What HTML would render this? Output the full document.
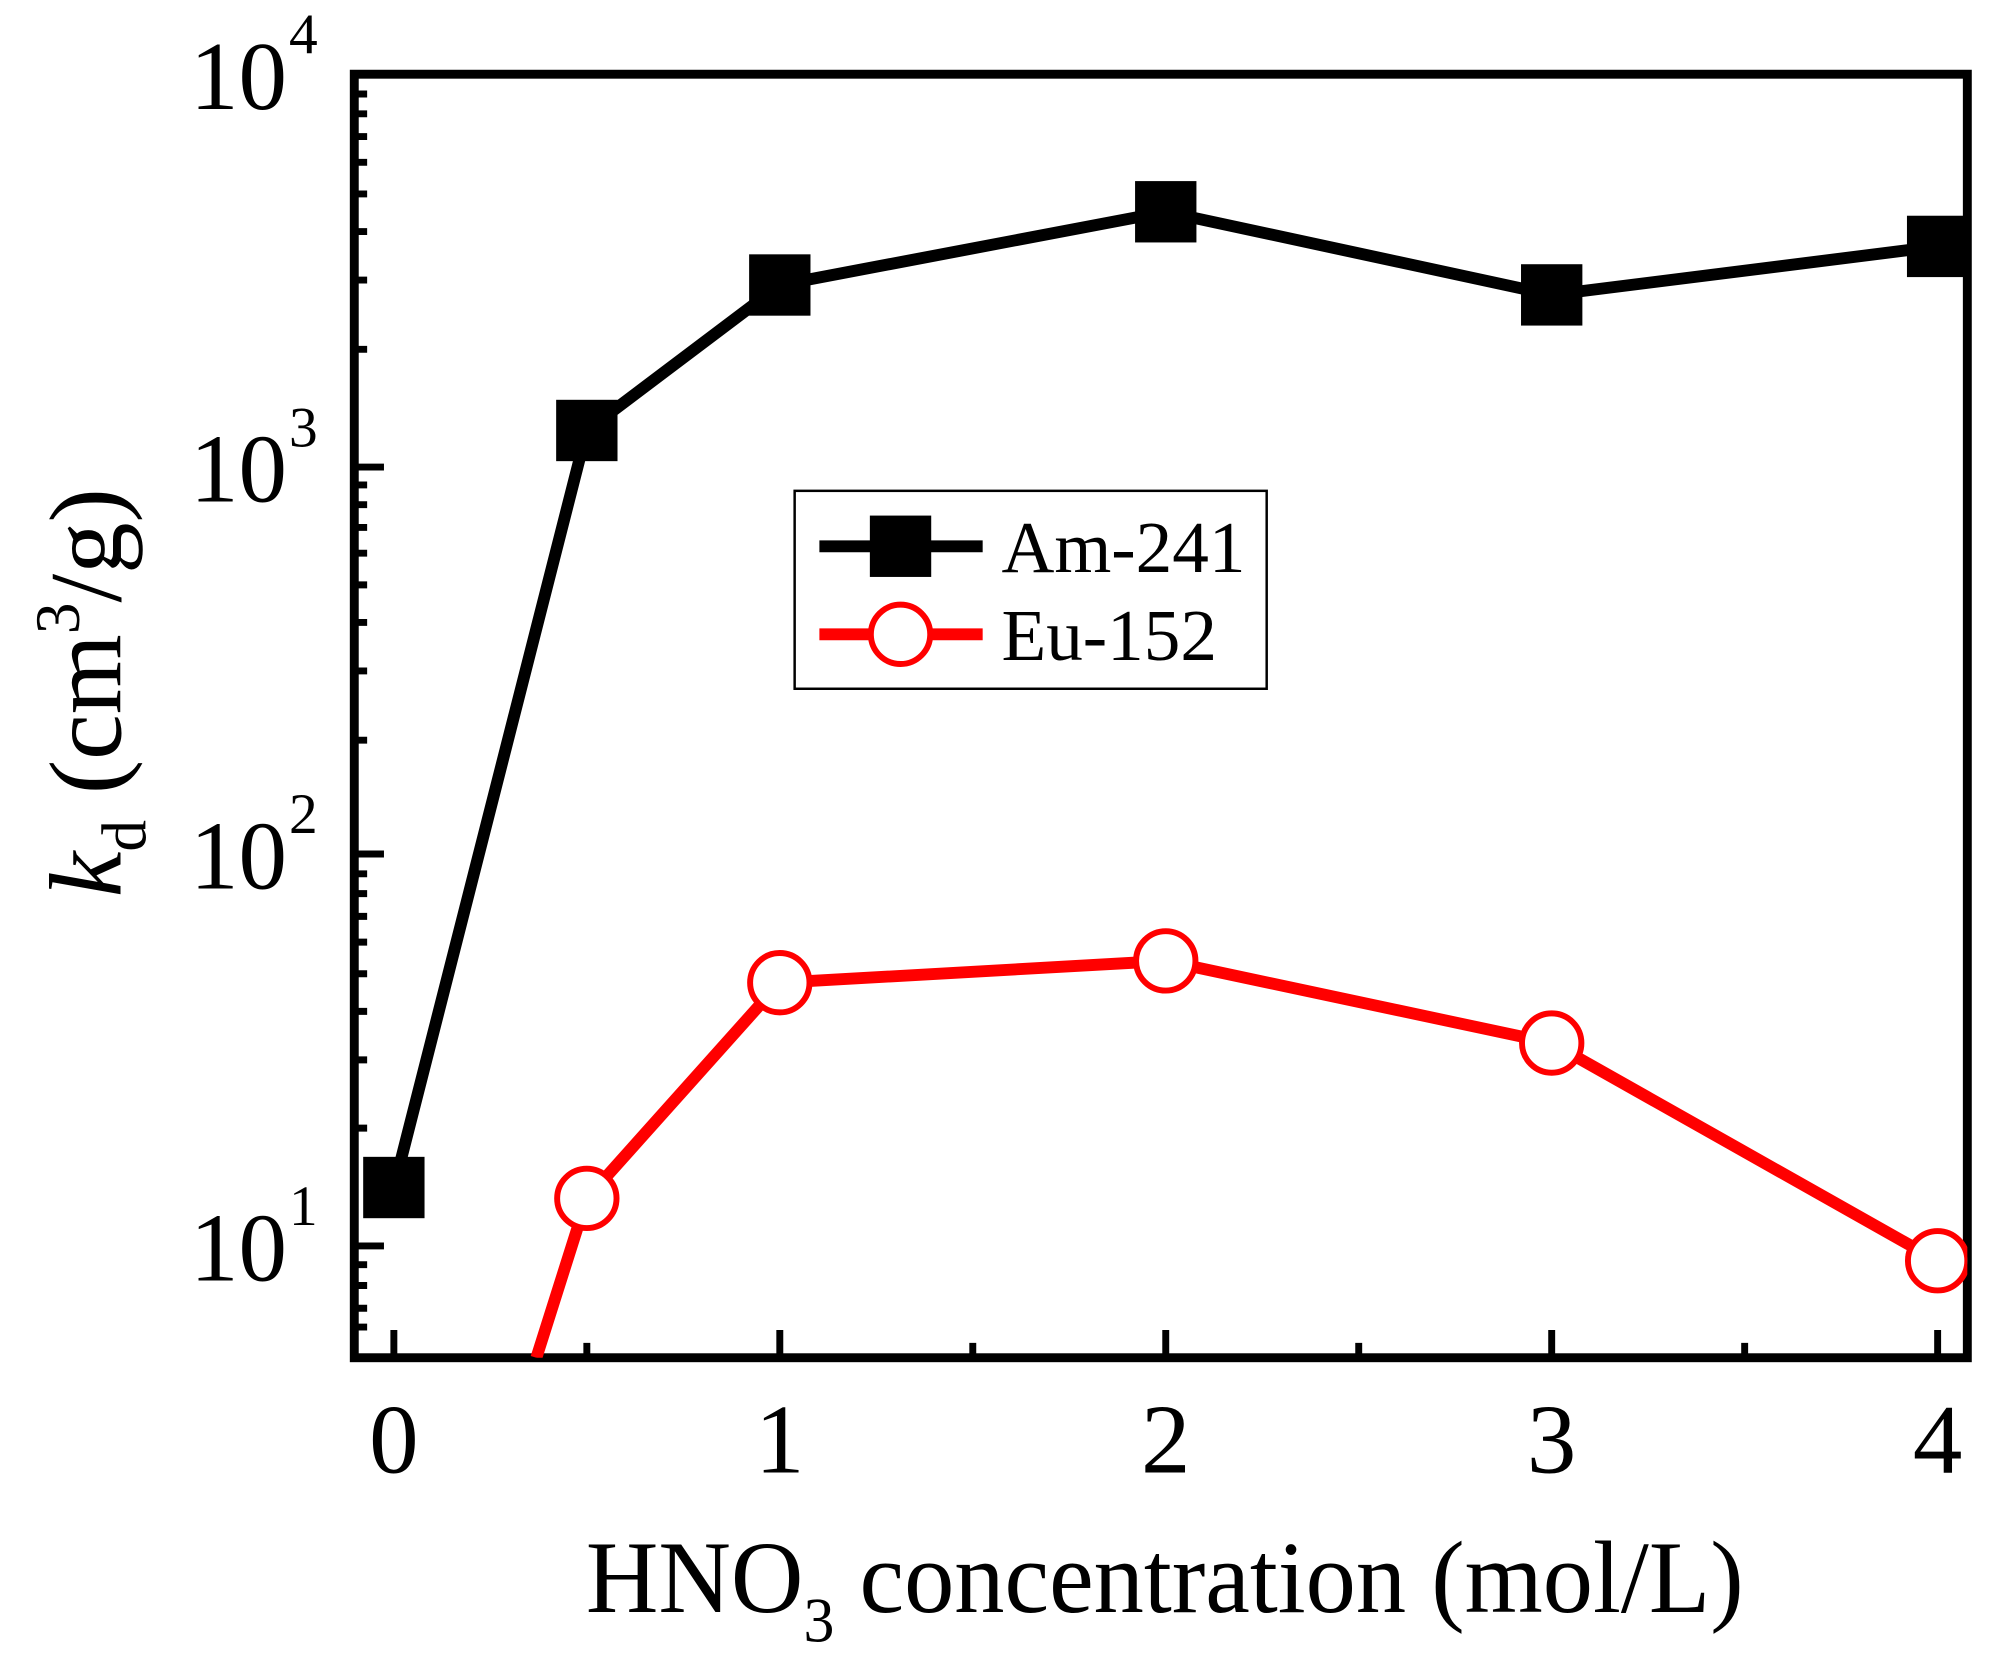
<!DOCTYPE html>
<html><head><meta charset="utf-8"><style>
html,body{margin:0;padding:0;background:#fff;}
svg{display:block;}
text{font-family:"Liberation Serif",serif;fill:#000;}
</style></head><body>
<svg width="2014" height="1672" viewBox="0 0 2014 1672" xmlns="http://www.w3.org/2000/svg">
<defs><clipPath id="c"><rect x="358" y="75" width="1630" height="1297"/></clipPath></defs>
<g transform="scale(0.9896)">
<g stroke="#000" stroke-width="7" fill="none">
<path d="
M358 472 h30 M358 863 h30 M358 1259 h30 M358 75 h30
M358 353 h13 M358 283 h13 M358 234 h13 M358 196 h13 M358 164 h13 M358 138 h13 M358 115 h13 M358 95 h13
M358 748 h13 M358 678 h13 M358 629 h13 M358 591 h13 M358 559 h13 M358 533 h13 M358 510 h13 M358 490 h13
M358 1140 h13 M358 1071 h13 M358 1022 h13 M358 984 h13 M358 952 h13 M358 926 h13 M358 903 h13 M358 883 h13
M358 1341 h13 M358 1322 h13 M358 1299 h13 M358 1278 h13
"/>
<path d="M398 1372 v-28 M788 1372 v-28 M1178 1372 v-28 M1568 1372 v-28 M1958 1372 v-28
M593 1372 v-15 M983 1372 v-15 M1373 1372 v-15 M1763 1372 v-15"/>
</g>
<rect x="358" y="75" width="1630" height="1297" fill="none" stroke="#000" stroke-width="9"/>
<g clip-path="url(#c)">
<polyline points="398,1200 593,435 788,288 1178,214 1568,298 1958,249" fill="none" stroke="#000" stroke-width="12"/>
<g fill="#000">
<rect x="367" y="1169" width="62" height="62"/><rect x="562" y="404" width="62" height="62"/>
<rect x="757" y="257" width="62" height="62"/><rect x="1147" y="183" width="62" height="62"/>
<rect x="1537" y="267" width="62" height="62"/><rect x="1927" y="218" width="62" height="62"/>
</g>
<polyline points="542,1372 593,1211 788,993 1178,971 1568,1054 1958,1274" fill="none" stroke="#f00" stroke-width="12"/>
<g fill="#fff" stroke="#f00" stroke-width="6">
<circle cx="593" cy="1211" r="30"/><circle cx="788" cy="993" r="30"/><circle cx="1178" cy="971" r="30"/>
<circle cx="1568" cy="1054" r="30"/><circle cx="1958" cy="1274" r="30"/>
</g>
</g>
<g font-size="98" text-anchor="end">
<text x="290" y="110">10</text><text x="290" y="507">10</text><text x="290" y="898">10</text><text x="290" y="1294">10</text>
</g>
<g font-size="58">
<text x="292" y="54">4</text><text x="292" y="451">3</text><text x="292" y="842">2</text><text x="292" y="1238">1</text>
</g>
<g font-size="100" text-anchor="middle">
<text x="398" y="1488">0</text><text x="788" y="1488">1</text><text x="1178" y="1488">2</text><text x="1568" y="1488">3</text><text x="1958" y="1488">4</text>
</g>
<text x="592" y="1629" font-size="104" textLength="1170" lengthAdjust="spacingAndGlyphs">HNO<tspan font-size="64" dy="30">3</tspan><tspan dy="-30"> concentration (mol/L)</tspan></text>
<text transform="translate(122,700) rotate(-90)" x="0" y="0" text-anchor="middle" font-size="104"><tspan font-style="italic">k</tspan><tspan font-size="64" dy="25">d</tspan><tspan dy="-25"> (cm</tspan><tspan font-size="64" dy="-42">3</tspan><tspan dy="42">/g)</tspan></text>
<rect x="803" y="496" width="477" height="200" fill="#fff" stroke="#000" stroke-width="2.5"/>
<line x1="828" y1="552" x2="993" y2="552" stroke="#000" stroke-width="12"/>
<rect x="879" y="521" width="62" height="62" fill="#000"/>
<line x1="828" y1="641" x2="993" y2="641" stroke="#f00" stroke-width="12"/>
<circle cx="910" cy="641" r="30" fill="#fff" stroke="#f00" stroke-width="6"/>
<text x="1012" y="578" font-size="74">Am-241</text>
<text x="1012" y="667" font-size="74">Eu-152</text>
</g>
</svg>
</body></html>
